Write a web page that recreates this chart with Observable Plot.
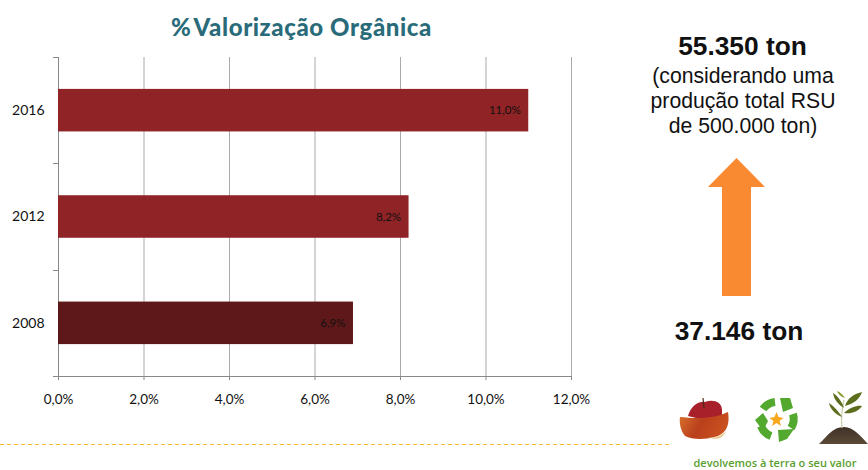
<!DOCTYPE html>
<html><head><meta charset="utf-8">
<script src="https://cdn.jsdelivr.net/npm/d3@7"></script>
<script src="https://cdn.jsdelivr.net/npm/@observablehq/plot@0.6"></script>
<style>
html,body{margin:0;padding:0;background:#fff;overflow:hidden}
#root{position:relative;width:868px;height:470px;overflow:hidden}
#chart svg{display:block;position:absolute;left:0;top:0;background:transparent}
.t{position:absolute;white-space:nowrap;text-align:center;transform:translateX(-50%)}
.r{font-family:"Liberation Sans",Arial,sans-serif;color:#111}
#deco{position:absolute;left:0;top:0}
</style></head><body>
<div id="root">
<svg id="deco" width="868" height="470" viewBox="0 0 868 470">
  <defs>
    <linearGradient id="peel" x1="0" x2="1" y1="0" y2="0.3">
      <stop offset="0" stop-color="#d9722c"/><stop offset=".5" stop-color="#b9401c"/><stop offset="1" stop-color="#c9501f"/>
    </linearGradient>
    <linearGradient id="soil" x1="0" x2="0" y1="0" y2="1">
      <stop offset="0" stop-color="#3f3226"/><stop offset="1" stop-color="#5a4a38"/>
    </linearGradient>
  </defs>
  <line x1="0" x2="671" y1="444.5" y2="444.5" stroke="#fbbb2c" stroke-width="1" stroke-dasharray="4 3"/>
  <polygon points="736.5,158 765,187 751,187 751,296 722,296 722,187 708,187" fill="#f98a31"/>
  <!-- apple -->
  <path d="M688 416 C691 405 700 401 705 402 C712 399 722 401 722 410 L722 418 L700 419Z" fill="#a8202a"/>
  <path d="M703 398 L704 408" stroke="#4a2a1a" stroke-width="1.2"/>
  <path d="M680 417 C692 418 712 420 728 412 C730 424 727 432 718 436 C707 440 692 440 685 436 C681 431 679 424 680 417Z" fill="url(#peel)"/>
  <path d="M708 437 C714 439 722 436 726 431 C724 438 716 441 708 437Z" fill="#e8c98a"/>
  <!-- recycling -->
  <g fill="none" stroke="#53a82e" stroke-width="8">
    <path d="M763 409 A17 17 0 0 1 775 402"/>
    <path d="M793 414 A17 17 0 0 1 791 428"/>
    <path d="M771 436 A17 17 0 0 1 761 426"/>
  </g>
  <g fill="#53a82e">
    <polygon points="780,398 790,398 793,408 783,412"/>
    <polygon points="763,413 768,421 763,431 755,420"/>
    <polygon points="778,430 794,429 787,439 779,442"/>
  </g>
  <polygon points="776.5,412 778.5,417 783.5,418 779.5,421 781,426 776.5,423 772,426 773.5,421 769.5,418 774.5,417" fill="#f9a71c"/>
  <!-- plant -->
  <path d="M819 444 C826 438 832 427 844 427 C854 427 862 438 868 444Z" fill="url(#soil)"/>
  <path d="M842 428 C841 418 842 408 844 400" stroke="#c9cfa8" stroke-width="1.2" fill="none"/>
  <g fill="#5d6d1e">
    <path d="M842 417 C838 410 832 405 829 403 C830 409 836 415 842 417Z"/>
    <path d="M845 406 C847 399 853 394 862 392 C860 399 853 404 845 406Z"/>
    <path d="M844 413 C850 407 858 405 862 406 C858 412 851 414 844 413Z"/>
    <path d="M844 408 C842 402 838 396 833 393 C834 400 839 405 844 408Z"/>
    <path d="M845 398 C843 395 840 392 837 391 C838 394 841 397 845 398Z" fill="#8a9a2e"/>
  </g>
</svg>
<div id="chart"></div>
<div class="t" style="left:301.5px;top:12px;font:900 24px Lato,sans-serif;color:#2a6b7a;letter-spacing:.6px">%<span style="margin-left:2px"></span>Valorização Orgânica</div>
<div class="t r" style="left:742.5px;top:31px;font-size:26.3px;font-weight:700;line-height:30px">55.350 ton</div>
<div class="t r" style="left:743px;top:63px;font-size:21.2px;line-height:25px">(considerando uma<br>produção total RSU<br>de 500.000 ton)</div>
<div class="t r" style="left:739px;top:316px;font-size:26.3px;font-weight:700;line-height:30px">37.146 ton</div>
<div class="t" style="left:775px;top:456px;font:600 11px/13px 'Open Sans',sans-serif;color:#5a9e2f">devolvemos à terra o seu valor</div>
</div>
<script>
const years = ["2016", "2012", "2008"];
const values = [11.0, 8.2, 6.9];
const labels = ["11,0%", "8,2%", "6,9%"];
const barColors = ["#8f2325", "#8f2325", "#5f1819"];
const xTicks = [0, 2, 4, 6, 8, 10, 12];
const rows = years.map((year, i) => ({year, value: values[i], label: labels[i], color: barColors[i]}));
const font = "Lato, sans-serif";

const bandTicks = (index, scales, vals, dims) => {
  const g = d3.create("svg:g").attr("stroke", "#888");
  const top = dims.marginTop, h = dims.height - dims.marginTop - dims.marginBottom;
  for (let k = 0; k <= years.length; k++) {
    const y = Math.round(top + k * h / years.length) + 0.5;
    g.append("line").attr("x1", dims.marginLeft - 5).attr("x2", dims.marginLeft).attr("y1", y).attr("y2", y);
  }
  return g.node();
};

const plot = Plot.plot({
  width: 868, height: 470,
  marginLeft: 58, marginRight: 297, marginTop: 57, marginBottom: 94,
  style: {fontFamily: font, background: "transparent"},
  x: {domain: [0, 12], ticks: xTicks, label: null},
  y: {domain: years, paddingInner: 0.6, paddingOuter: 0.3, align: 0.5, round: false, label: null},
  marks: [
    Plot.ruleX(xTicks, {stroke: "#aaa", strokeWidth: 1}),
    Plot.ruleX([0], {stroke: "#888", strokeWidth: 1}),
    Plot.barX(rows, {x: "value", y: "year", fill: "color"}),
    Plot.text(rows, {x: "value", y: "year", text: "label", textAnchor: "end", dx: -8, fill: "#111", fontSize: 11.5}),
    bandTicks,
    Plot.axisY({tickSize: 0, tickPadding: 14, fontSize: 14, color: "#111", label: null}),
    Plot.axisX({ticks: xTicks, tickSize: 4, tickPadding: 14, stroke: "#888", fontSize: 13.5, color: "#111", label: null,
      tickFormat: d => d.toFixed(1).replace(".", ",") + "%"}),
    (index, scales, vals, dims) => d3.create("svg:line")
      .attr("x1", dims.marginLeft - 5).attr("x2", dims.width - dims.marginRight)
      .attr("y1", dims.height - dims.marginBottom + 0.5).attr("y2", dims.height - dims.marginBottom + 0.5)
      .attr("stroke", "#888").node()
  ]
});
document.getElementById("chart").appendChild(plot);
</script>
</body></html>
